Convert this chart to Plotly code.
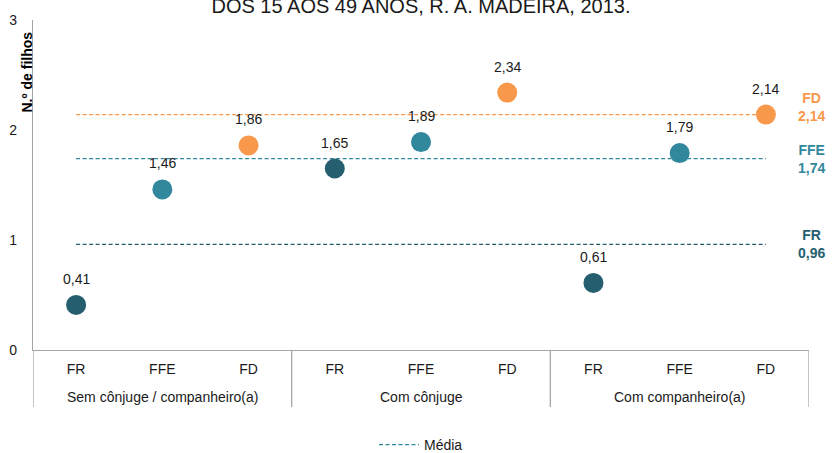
import plotly.graph_objects as go

groups = ["Sem cônjuge / companheiro(a)", "Com cônjuge", "Com companheiro(a)"]
types = ["FR", "FFE", "FD"]
values = {
    "FR": [0.41, 1.65, 0.61],
    "FFE": [1.46, 1.89, 1.79],
    "FD": [1.86, 2.34, 2.14],
}
means = {"FR": 0.96, "FFE": 1.74, "FD": 2.14}
colors = {"FR": "#255F6F", "FFE": "#31879B", "FD": "#F8984A"}
y_ticks = [0, 1, 2, 3]
title_text = "DOS 15 AOS 49 ANOS, R. A. MADEIRA, 2013."

FONT = "Liberation Sans, Arial, sans-serif"
AXIS = "#A6A6A6"
DASH = "4px,2.5px"

fig = go.Figure()

n = len(groups) * len(types)
tickvals, ticktext = [], []
for gi, g in enumerate(groups):
    for ti, t in enumerate(types):
        tickvals.append(gi * 3 + ti)
        ticktext.append(t)

# mean lines
for i, t in enumerate(types):
    fig.add_trace(go.Scatter(
        x=[0, n - 1], y=[means[t], means[t]], mode="lines",
        line=dict(color=colors[t], width=1.3, dash=DASH),
        name="Média", showlegend=(t == "FFE"), hoverinfo="skip"))

# points
for ti, t in enumerate(types):
    xs = [gi * 3 + ti for gi in range(len(groups))]
    fig.add_trace(go.Scatter(
        x=xs, y=values[t], mode="markers",
        marker=dict(size=20, color=colors[t], line=dict(width=0)),
        showlegend=False))
    for x, v in zip(xs, values[t]):
        fig.add_annotation(x=x, y=v, text=f"{v:.2f}".replace(".", ","),
                           showarrow=False, yshift=26,
                           font=dict(size=14, color="#1A1A1A", family=FONT))

# right-side mean labels
label_shift = {"FR": 0, "FFE": 0, "FD": 8}
for t in types:
    fig.add_annotation(x=1.0, xref="paper", xanchor="center", xshift=2,
                       y=means[t], yshift=label_shift[t],
                       text=f"<b>{t}</b><br><b>{means[t]:.2f}</b>".replace(".", ","),
                       showarrow=False, align="center",
                       font=dict(size=14, color=colors[t], family=FONT))

# group labels and separators
ph = 330.0
for gi, g in enumerate(groups):
    fig.add_annotation(x=gi * 3 + 1, y=-47 / ph, yref="paper", text=g,
                       showarrow=False, yanchor="middle",
                       font=dict(size=14, color="#1A1A1A", family=FONT))
for k in range(len(groups) + 1):
    fig.add_shape(type="line", xref="x", yref="paper",
                  x0=k * 3 - 0.5, x1=k * 3 - 0.5, y0=0, y1=-57 / ph,
                  line=dict(color=AXIS, width=1.3))

# y-axis title
fig.add_annotation(x=0, xref="paper", xshift=-17, y=1, yref="paper", yshift=-10,
                   text="<b>N.º de filhos</b>", textangle=-90, showarrow=False,
                   font=dict(size=14, color="#000000", family=FONT))

fig.update_layout(
    width=832, height=453,
    margin=dict(l=33, r=23, t=20, b=103, autoexpand=False),
    paper_bgcolor="white", plot_bgcolor="white",
    font=dict(family=FONT, size=14, color="#1A1A1A"),
    title=dict(text=title_text, x=0.5, xanchor="center", xref="paper",
               y=1 - 6 / 453, yref="container", yanchor="middle",
               font=dict(size=20, color="#1A1A1A", family=FONT)),
    showlegend=True,
    legend=dict(orientation="h", x=0.5, xanchor="center", y=-95 / ph,
                yanchor="middle", font=dict(size=14, family=FONT),
                itemwidth=40),
    xaxis=dict(range=[-0.5, n - 0.5], tickvals=tickvals, ticktext=ticktext,
               showgrid=False, zeroline=False, showline=True, linecolor=AXIS,
               linewidth=1.3, ticks="", tickfont=dict(size=14), automargin=False,
               ticklabelstandoff=6),
    yaxis=dict(range=[0, 3], tickvals=y_ticks, showgrid=False, zeroline=False,
               showline=True, linecolor=AXIS, linewidth=1.3, ticks="",
               ticklabelstandoff=12, tickfont=dict(size=14), automargin=False),
)

fig.write_html("out.html", config={"displayModeBar": False},
               post_script="document.body.style.margin='0';document.body.style.overflow='hidden';")
